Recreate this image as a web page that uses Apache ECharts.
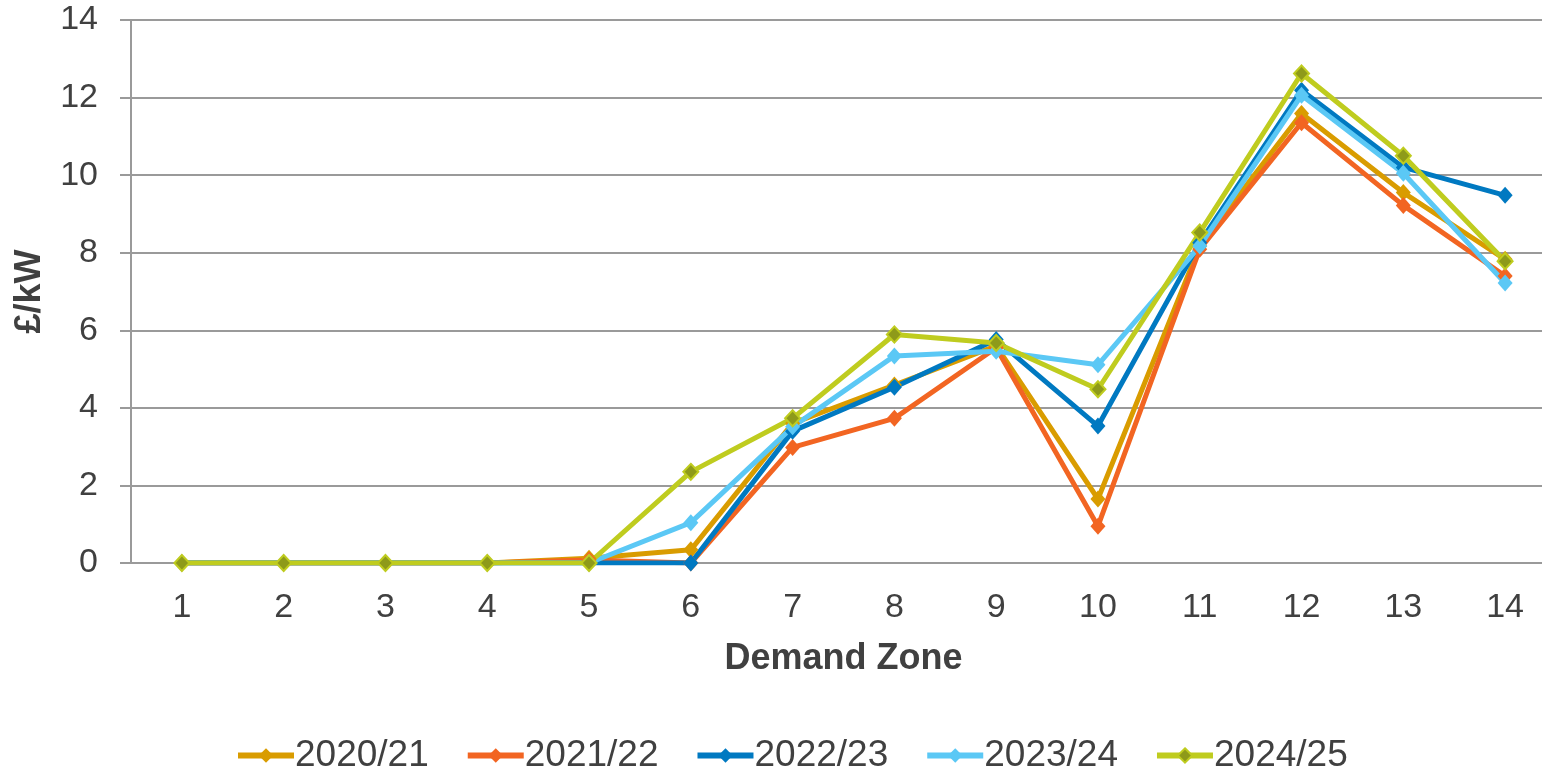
<!DOCTYPE html>
<html>
<head>
<meta charset="utf-8">
<script src="https://cdn.jsdelivr.net/npm/echarts@6/dist/echarts.min.js"></script>
<style>
  html, body { margin: 0; padding: 0; background: #fff; overflow: hidden; }
  /* plot runs past the right edge in the original, so the canvas is a bit wider than the window */
  #main { width: 1556px; height: 769px; }
</style>
</head>
<body>
<div id="main"></div>
<script>
// demand zones 1..14
var zones = ['1', '2', '3', '4', '5', '6', '7', '8', '9', '10', '11', '12', '13', '14'];

var y2020 = [0, 0, 0, 0, 0.12, 0.34, 3.6, 4.59, 5.6, 1.65, 8.17, 11.59, 9.55, 7.83];
var y2021 = [0, 0, 0, 0, 0.08, 0, 2.98, 3.73, 5.55, 0.95, 8.09, 11.35, 9.22, 7.4];
var y2022 = [0, 0, 0, 0, 0, 0, 3.4, 4.53, 5.76, 3.53, 8.26, 12.19, 10.2, 9.48];
var y2023 = [0, 0, 0, 0, 0, 1.04, 3.51, 5.34, 5.46, 5.11, 8.17, 12.06, 10.05, 7.22];
var y2024 = [0, 0, 0, 0, 0, 2.35, 3.73, 5.89, 5.67, 4.48, 8.52, 12.62, 10.5, 7.78];

var yTicks = { min: 0, max: 14, interval: 2 };

var chart = echarts.init(document.getElementById('main'));

function mkSeries(name, data, color, markFill) {
    return {
        name: name,
        type: 'line',
        data: data,
        symbol: 'diamond',
        symbolSize: markFill ? [15, 16] : [15, 17],
        lineStyle: { color: color, width: 5 },
        itemStyle: {
            color: markFill || color,
            borderColor: color,
            borderWidth: markFill ? 2 : 0
        },
        emphasis: { disabled: true },
        animation: false
    };
}

var option = {
    animation: false,
    textStyle: { fontFamily: 'Liberation Sans, Arial, sans-serif' },
    grid: { left: 131, right: 0, top: 20, bottom: 206, containLabel: false },
    legend: {
        left: 230,
        top: 732,
        itemWidth: 56,
        itemHeight: 18,
        itemGap: 36,
        lineStyle: { width: 6 },
        textStyle: { fontSize: 37, color: '#404040', padding: [0, 0, 0, -4] },
        data: ['2020/21', '2021/22', '2022/23', '2023/24', '2024/25']
    },
    xAxis: {
        type: 'category',
        data: zones,
        name: 'Demand Zone',
        nameLocation: 'middle',
        nameGap: 78,
        nameTextStyle: { fontSize: 36, fontWeight: 'bold', color: '#404040' },
        axisLine: { lineStyle: { color: '#9a9a9a', width: 2 } },
        axisTick: { length: 10, lineStyle: { color: '#9a9a9a', width: 2 } },
        axisLabel: { fontSize: 34, color: '#404040', margin: 28 }
    },
    yAxis: {
        type: 'value',
        min: yTicks.min,
        max: yTicks.max,
        interval: yTicks.interval,
        name: '£/kW',
        nameLocation: 'middle',
        nameGap: 83,
        nameTextStyle: { fontSize: 36, fontWeight: 'bold', color: '#404040' },
        axisLine: { show: true, lineStyle: { color: '#9a9a9a', width: 2 } },
        axisTick: { show: true, length: 11, lineStyle: { color: '#9a9a9a', width: 2 } },
        axisLabel: { fontSize: 34, color: '#404040', margin: 33 },
        splitLine: { lineStyle: { color: '#9a9a9a', width: 2 } }
    },
    series: [
        mkSeries('2020/21', y2020, '#D99C00'),
        mkSeries('2021/22', y2021, '#F26522'),
        mkSeries('2022/23', y2022, '#0079C1'),
        mkSeries('2023/24', y2023, '#5BC8F5'),
        mkSeries('2024/25', y2024, '#BFCC1F', '#8E9A1A')
    ]
};

chart.setOption(option);
</script>
</body>
</html>
